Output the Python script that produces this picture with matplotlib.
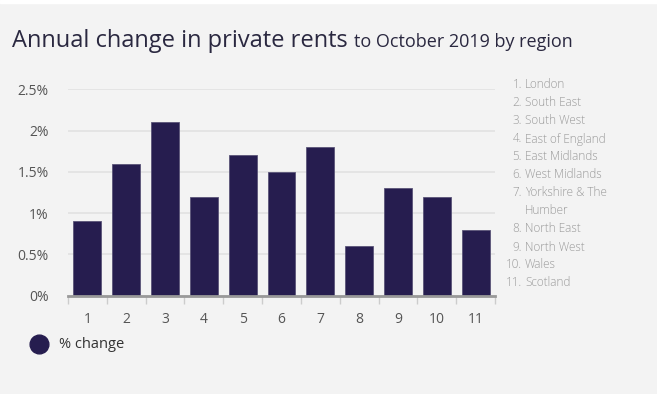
"""
annual change in private rents by region
"""

import matplotlib.pyplot as plt
from matplotlib.lines import Line2D

regions = ["London", "South East", "South West", "East of England", "East Midlands",
           "West Midlands", "Yorkshire & The\nHumber", "North East", "North West",
           "Wales", "Scotland"]
codes = [str(i) for i in range(1, 12)]
pct_change = [0.9, 1.6, 2.1, 1.2, 1.7, 1.5, 1.8, 0.6, 1.3, 1.2, 0.8]
y_ticks = [0, 0.5, 1, 1.5, 2, 2.5]
y_labels = ["0%", "0.5%", "1%", "1.5%", "2%", "2.5%"]

bg = '#f3f3f3'
bar_col = '#261d4f'

plt.rcParams['font.family'] = ['Open Sans', 'DejaVu Sans']

fig = plt.figure(figsize=(6.57, 3.94), dpi=100, facecolor=bg)
# thin white strip along the top edge
fig.patches.append(plt.Rectangle((0, 1 - 3 / 394), 1, 3 / 394, transform=fig.transFigure,
                                 color='white', zorder=0))

ax = fig.add_axes([68 / 657, 98.5 / 394, 427 / 657, 206.2 / 394])
ax.set_facecolor(bg)

x = list(range(len(codes)))
ax.bar(x, pct_change, width=0.72, color=bar_col, edgecolor='#5a5478', linewidth=0.6, zorder=3)

ax.set_xlim(-0.5, len(codes) - 0.5)
ax.set_ylim(0, 2.5)
ax.set_yticks(y_ticks)
ax.set_yticklabels(y_labels, fontsize=10, color='#555555')
ax.yaxis.grid(True, color='#e2e2e2', linewidth=1.2, zorder=0)
ax.tick_params(axis='y', length=0, pad=14)

# ticks sit on the category boundaries, labels in the middle
ax.set_xticks([i - 0.5 for i in range(len(codes) + 1)])
ax.set_xticklabels([])
ax.set_xticks(x, minor=True)
ax.set_xticklabels(codes, minor=True, fontsize=10, color='#555555')
ax.tick_params(axis='x', which='major', length=6, width=1, color='#cccccc', direction='out')
ax.tick_params(axis='x', which='minor', length=0, pad=12)

for side in ['top', 'right', 'left']:
    ax.spines[side].set_visible(False)
ax.spines['bottom'].set_color('#999999')
ax.spines['bottom'].set_linewidth(2)
ax.spines['bottom'].set_zorder(4)

# title, the smaller part follows right after the big one
title = fig.text(12 / 657, 1 - 47 / 394, "Annual change in private rents", fontsize=17,
                 color='#2a2840', va='baseline', ha='left')
fig.canvas.draw()
bb = title.get_window_extent()
fig.text((bb.x1 + 6) / 657, 1 - 47 / 394, "to October 2019 by region", fontsize=13,
         color='#2a2840', va='baseline', ha='left')

# region key on the right
row = 0
for i, name in enumerate(regions):
    y = 85 + 18 * row
    fig.text(522 / 657, 1 - y / 394, f"{i + 1}.", fontsize=8.5, color='#9a9a9a',
             ha='right', va='center', fontweight='light')
    for ln in name.split("\n"):
        fig.text(525 / 657, 1 - (85 + 18 * row) / 394, ln, fontsize=8.5, color='#9a9a9a',
                 ha='left', va='center', fontweight='light')
        row += 1

# legend
fig.lines.append(Line2D([39 / 657], [1 - 344 / 394], transform=fig.transFigure,
                        marker='o', markersize=13.5, color=bar_col, linestyle='none'))
fig.text(59 / 657, 1 - 344 / 394, "% change", fontsize=10.5, color='#333333',
         ha='left', va='center')

fig.savefig('out.png', dpi=100, facecolor=bg)
